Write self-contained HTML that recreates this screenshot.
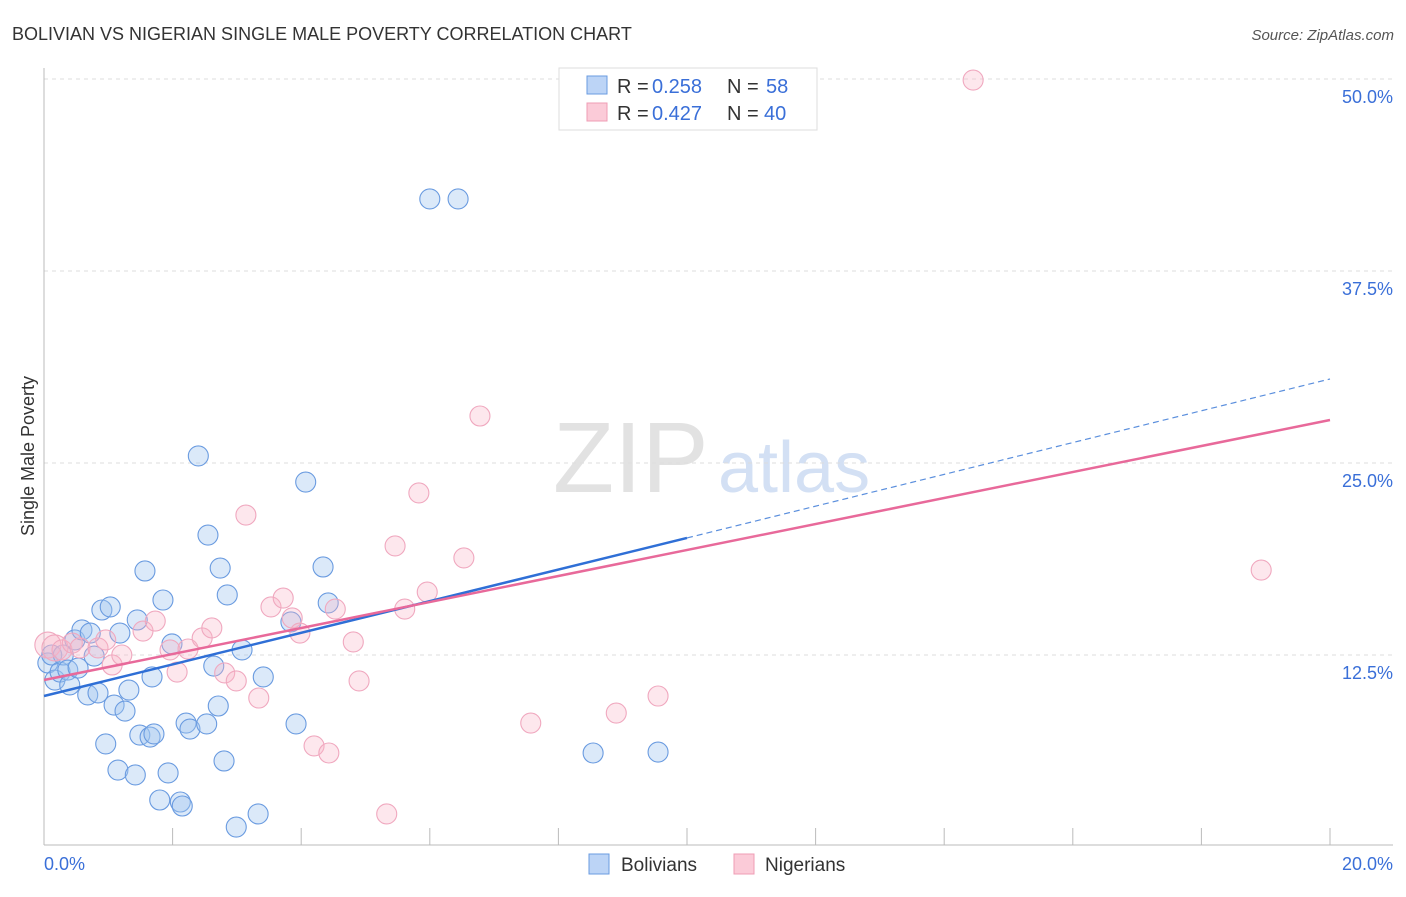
<!DOCTYPE html>
<html><head><meta charset="utf-8"><style>
body{margin:0;background:#fff;font-family:"Liberation Sans",sans-serif}
svg text{font-family:"Liberation Sans",sans-serif}
</style></head><body>
<svg id="c" width="1406" height="892" viewBox="0 0 1406 892">
<text x="12" y="40" font-size="18" fill="#333">BOLIVIAN VS NIGERIAN SINGLE MALE POVERTY CORRELATION CHART</text>
<text x="1394" y="40" font-size="15" fill="#555" font-style="italic" text-anchor="end">Source: ZipAtlas.com</text>
<text x="34" y="456" font-size="18" fill="#333" text-anchor="middle" transform="rotate(-90 34 456)">Single Male Poverty</text>
<text x="553" y="492" font-size="100" fill="#e2e2e2" font-family="Liberation Serif">ZIP</text>
<text x="718" y="492" font-size="72" fill="#d3e0f4">atlas</text>
<g id="grid"></g><g id="pts"></g><g id="lines"></g>
<g>
<rect x="559" y="68" width="258" height="62" fill="#fff" stroke="#ddd"/>
<rect x="587" y="76" width="20" height="18" fill="#bcd4f6" stroke="#6a9be0"/>
<rect x="587" y="103" width="20" height="18" fill="#fbcbd8" stroke="#ef9cb5"/>
<text x="617" y="93" font-size="20" fill="#333">R =</text>
<text x="652" y="93" font-size="20" fill="#3a6fd8">0.258</text>
<text x="727" y="93" font-size="20" fill="#333">N =</text>
<text x="766" y="93" font-size="20" fill="#3a6fd8">58</text>
<text x="617" y="120" font-size="20" fill="#333">R =</text>
<text x="652" y="120" font-size="20" fill="#3a6fd8">0.427</text>
<text x="727" y="120" font-size="20" fill="#333">N =</text>
<text x="764" y="120" font-size="20" fill="#3a6fd8">40</text>
</g>
<g>
<rect x="589" y="854" width="20" height="20" fill="#bcd4f6" stroke="#6a9be0"/>
<text x="621" y="871" font-size="19" fill="#333">Bolivians</text>
<rect x="734" y="854" width="20" height="20" fill="#fbcbd8" stroke="#ef9cb5"/>
<text x="765" y="871" font-size="19" fill="#333">Nigerians</text>
</g>
</svg>
<script>
const yTicks=[12.5,25,37.5,50];
const yTickLabels=["12.5%","25.0%","37.5%","50.0%"];
const xTicks=[0,2,4,6,8,10,12,14,16,18,20];
const xEndLabels=["0.0%","20.0%"];
const bolX=[0.06,0.12,0.17,0.25,0.30,0.37,0.40,0.48,0.53,0.59,0.68,0.72,0.78,0.84,0.90,1.03,1.09,1.18,1.26,1.32,1.45,1.49,1.57,1.65,1.68,1.71,1.85,1.93,1.99,1.80,2.12,2.15,2.21,2.27,2.40,2.53,2.55,2.64,2.71,2.74,2.80,2.85,2.99,3.08,3.33,3.41,3.84,3.92,4.07,4.34,4.42,6.00,6.44,8.54,9.55,1.15,1.42,0.96];
const bolY=[11.98,12.5,10.87,11.39,12.5,11.52,10.55,13.48,11.65,14.13,9.90,13.93,12.43,10.03,15.43,15.63,9.24,13.93,8.85,10.22,14.78,7.29,17.97,7.16,11.07,7.36,16.08,4.82,13.22,3.06,2.93,2.67,8.07,7.68,25.46,8.01,20.31,11.78,9.18,18.16,5.60,16.41,1.30,12.83,2.15,11.07,14.65,8.01,23.76,18.23,15.89,42.19,42.19,6.12,6.18,5.01,4.69,6.71];
const nigX=[0.06,0.17,0.28,0.44,0.56,0.84,0.96,1.06,1.21,1.54,1.73,1.96,2.07,2.24,2.46,2.61,2.81,2.99,3.14,3.34,3.53,3.72,3.86,3.98,4.20,4.43,4.53,4.81,4.90,5.33,5.46,5.61,5.83,5.96,6.53,6.78,7.57,8.90,9.55,14.45,18.93];
const nigY=[13.15,12.96,12.83,13.28,12.96,12.96,13.48,11.85,12.5,14.06,14.71,12.83,11.39,12.89,13.61,14.26,11.33,10.81,21.61,9.70,15.63,16.21,14.91,13.93,6.58,6.12,15.49,13.35,10.81,2.15,19.60,15.49,23.05,16.60,18.82,28.06,8.07,8.72,9.83,49.93,18.03];
const bolTrend=[9.83,20.12,30.47]; // at x=0,10,20
const nigTrend=[10.87,27.8]; // at x=0,20
const NS="http://www.w3.org/2000/svg";
const X=v=>44+v*64.3, Y=v=>847-v*15.36;
function mk(t,a,p){const e=document.createElementNS(NS,t);for(const k in a)e.setAttribute(k,a[k]);p.appendChild(e);return e;}
const grid=document.getElementById('grid');
yTicks.forEach((t,i)=>{
 const l=mk('line',{x1:44,x2:1393,y1:Y(t),y2:Y(t),stroke:'#ddd','stroke-dasharray':'4,4'},grid);
 
 
 const tx=mk('text',{x:1393,y:Y(t)+24,'font-size':18,fill:'#3a6fd8','text-anchor':'end'},grid);
 tx.textContent=yTickLabels[i];
 
 
});
const ax=mk('line',{x1:44,x2:1393,y1:845,y2:845,stroke:'#bbb'},grid);


const ay=mk('line',{x1:44,x2:44,y1:68,y2:845,stroke:'#bbb'},grid);


xTicks.forEach(t=>{
 const l=mk('line',{x1:X(t),x2:X(t),y1:828,y2:845,stroke:'#bbb'},grid);
 
 
});
[[0,'start',44],[20,'end',1393]].forEach((d,i)=>{
 const tx=mk('text',{x:d[2],y:870,'font-size':18,fill:'#3a6fd8','text-anchor':d[1]},grid);
 tx.textContent=xEndLabels[i];
 
 
});
const pts=document.getElementById('pts');
bolX.forEach((x,i)=>{
 const c=mk('circle',{cx:X(x),cy:Y(bolY[i]),r:10,fill:'rgba(160,196,240,0.38)',stroke:'#6a9be0','stroke-width':1.1},pts);
 
 
});
nigX.forEach((x,i)=>{
 const c=mk('circle',{cx:X(x),cy:Y(nigY[i]),r:i<2?13:10,fill:'rgba(248,180,200,0.32)',stroke:'#f0a8bf','stroke-width':1.1},pts);
 
 
});
const lg=document.getElementById('lines');
const b1=mk('line',{x1:X(0),y1:Y(bolTrend[0]),x2:X(10),y2:Y(bolTrend[1]),stroke:'#2f6fd6','stroke-width':2.5},lg);


const b2=mk('line',{x1:X(10),y1:Y(bolTrend[1]),x2:X(20),y2:Y(bolTrend[2]),stroke:'#5b8fdd','stroke-width':1.2,'stroke-dasharray':'6,4'},lg);


const p1=mk('line',{x1:X(0),y1:Y(nigTrend[0]),x2:X(20),y2:Y(nigTrend[1]),stroke:'#e8699a','stroke-width':2.5},lg);


</script>
</body></html>
